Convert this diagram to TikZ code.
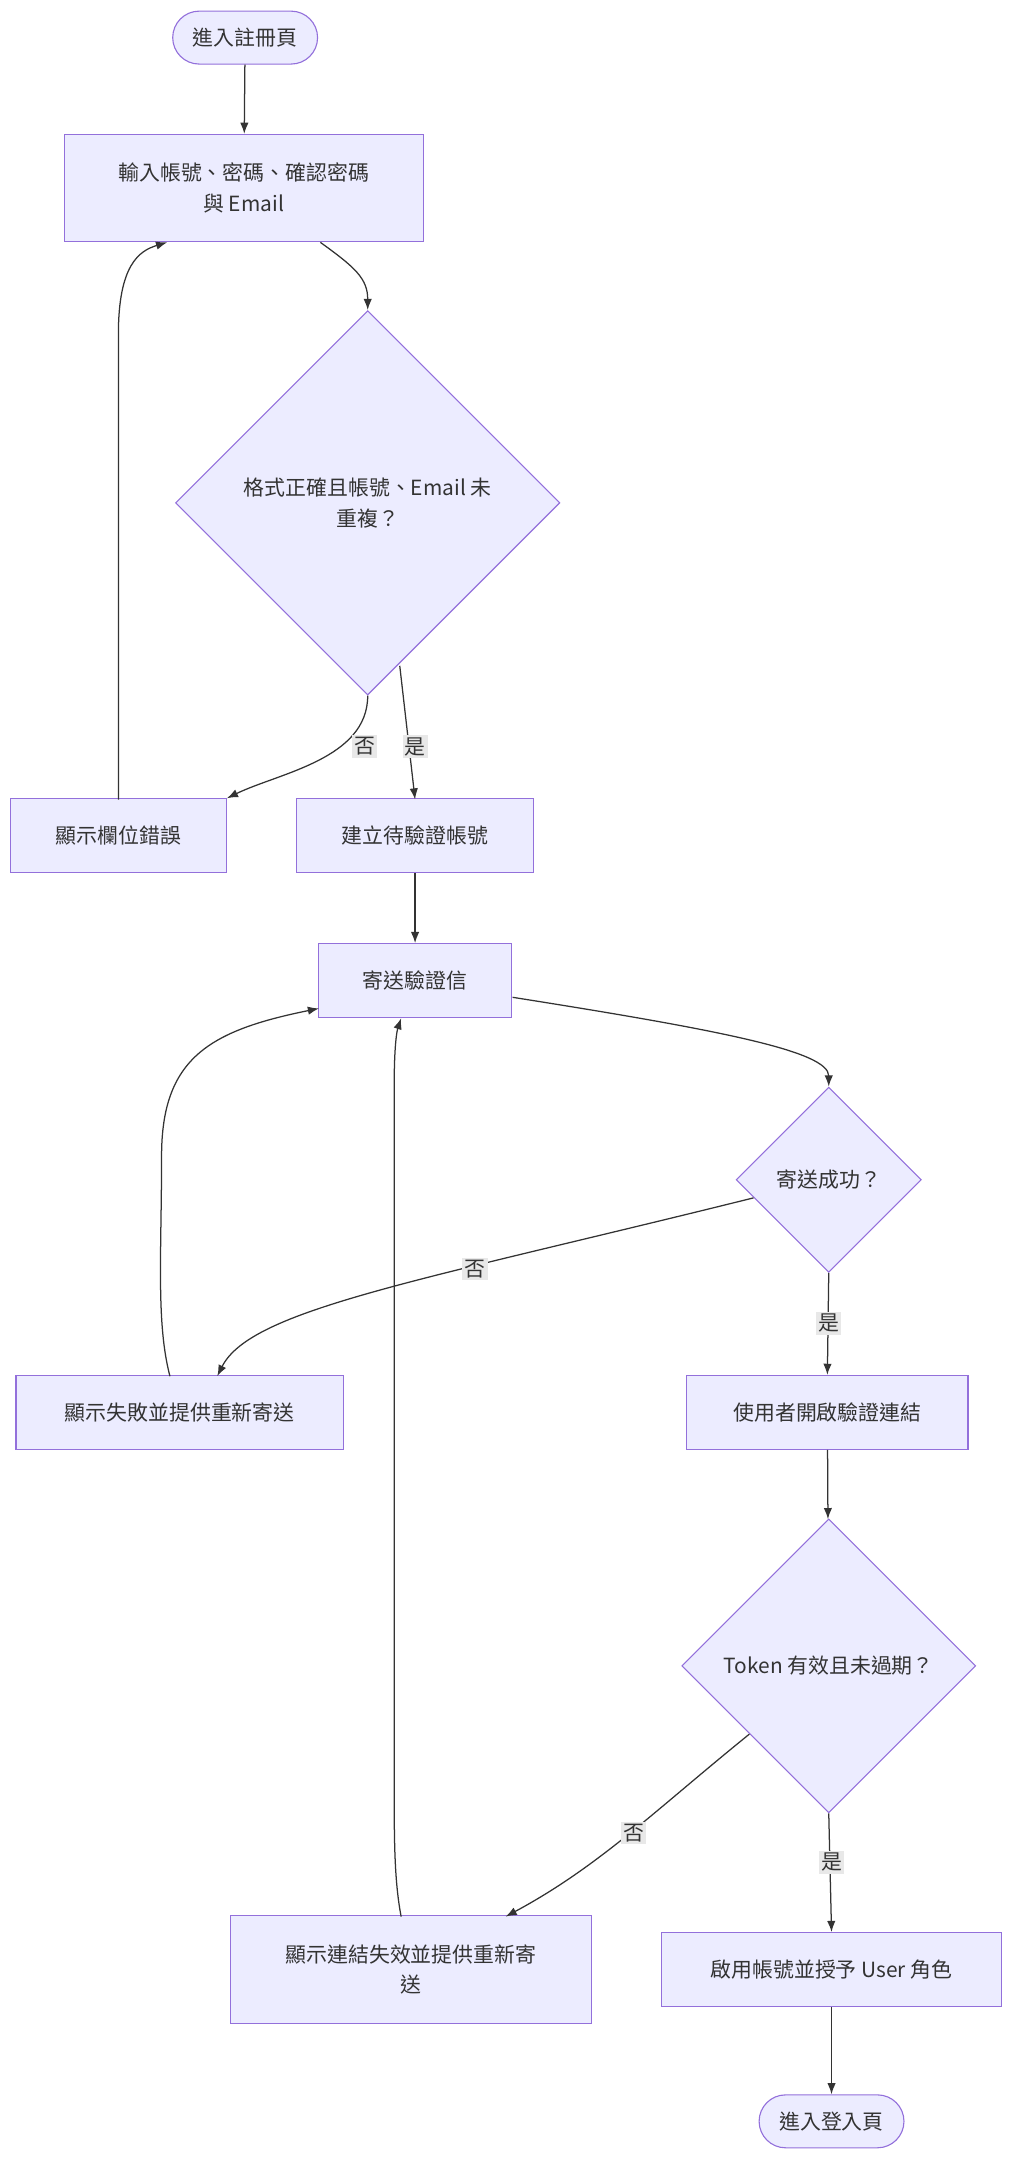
\documentclass[tikz,border=0pt]{standalone}
\usepackage{fontspec}
\setmainfont{Noto Sans CJK TC}
\usetikzlibrary{shapes.geometric,arrows.meta}
\definecolor{nf}{HTML}{ECECFF}
\definecolor{ns}{HTML}{9370DB}
\definecolor{tx}{HTML}{333333}
\definecolor{lb}{HTML}{E8E8E8}
\begin{document}
\begin{tikzpicture}[x=1pt,y=-1pt,font=\fontsize{15}{22}\selectfont,text=tx,
 box/.style={draw=ns,fill=nf,line width=0.8pt,align=center,inner sep=0},
 rbox/.style={box,rounded corners=19pt,minimum width=104,minimum height=38},
 dia/.style={box,diamond,aspect=1},
 e/.style={draw=tx,line width=0.9pt,-{Latex[length=8pt,width=6pt]}},
 lab/.style={fill=lb,inner sep=1.5pt,font=\fontsize{15}{18}\selectfont}]
\useasboundingbox (0,0) rectangle (735,1568);
\node[rbox] (start) at (176,27) {進入註冊頁};
\node[box,minimum width=258,minimum height=77] (input) at (175,135) {輸入帳號、密碼、確認密碼\\與 Email};
\node[dia,minimum width=276,minimum height=276] (d1) at (264,361) {};
\node[align=center] at (264,361) {格式正確且帳號、Email 未\\重複？};
\node[box,minimum width=155,minimum height=53] (err1) at (85,600) {顯示欄位錯誤};
\node[box,minimum width=170,minimum height=53] (create) at (298,600) {建立待驗證帳號};
\node[box,minimum width=139,minimum height=53] (send) at (298,704) {寄送驗證信};
\node[dia,minimum width=133,minimum height=133] (d2) at (595,847) {};
\node at (595,847) {寄送成功？};
\node[box,minimum width=235,minimum height=53] (fail) at (129,1014) {顯示失敗並提供重新寄送};
\node[box,minimum width=202,minimum height=53] (open) at (594,1014) {使用者開啟驗證連結};
\node[dia,minimum width=211,minimum height=211] (d3) at (595,1196) {};
\node at (595,1196) {Token 有效且未過期？};
\node[box,minimum width=259,minimum height=77] (lf) at (295,1414) {顯示連結失效並提供重新寄\\送};
\node[box,minimum width=244,minimum height=53] (en) at (597,1414) {啟用帳號並授予 User 角色};
\node[rbox] (end) at (597,1523) {進入登入頁};

\draw[e] (start) -- (input);
\draw[e] (230,174) .. controls (255,192) and (264,200) .. (d1.north);
\draw[e] (d1.south) .. controls (264,545) and (200,555) .. (err1.north east);
\node[lab] at (262,536) {否};
\draw[e] (287,478) -- (298,574);
\node[lab] at (298,536) {是};
\draw[e] (85,574) -- (85,240) .. controls (85,190) and (100,180) .. (120,174);
\draw[e] (create) -- (send);
\draw[e] (368,716) .. controls (520,740) and (595,755) .. (d2.north);
\draw[e] (541,860) .. controls (300,920) and (180,940) .. (156,988);
\node[lab] at (341,911) {否};
\draw[e] (d2.south) -- (open.north);
\node[lab] at (595,950) {是};
\draw[e] (122,988) .. controls (112,950) and (116,900) .. (116,830) .. controls (116,760) and (150,740) .. (229,724);
\draw[e] (open) -- (d3);
\draw[e] (538,1245) .. controls (470,1300) and (430,1340) .. (363,1376);
\node[lab] at (455,1316) {否};
\draw[e] (d3.south) -- (en.north);
\node[lab] at (597,1337) {是};
\draw[e] (288,1376) .. controls (283,1350) and (283,1320) .. (283,1280) -- (283,780) .. controls (283,750) and (285,740) .. (288,731);
\draw[e] (en) -- (end);
\end{tikzpicture}
\end{document}
